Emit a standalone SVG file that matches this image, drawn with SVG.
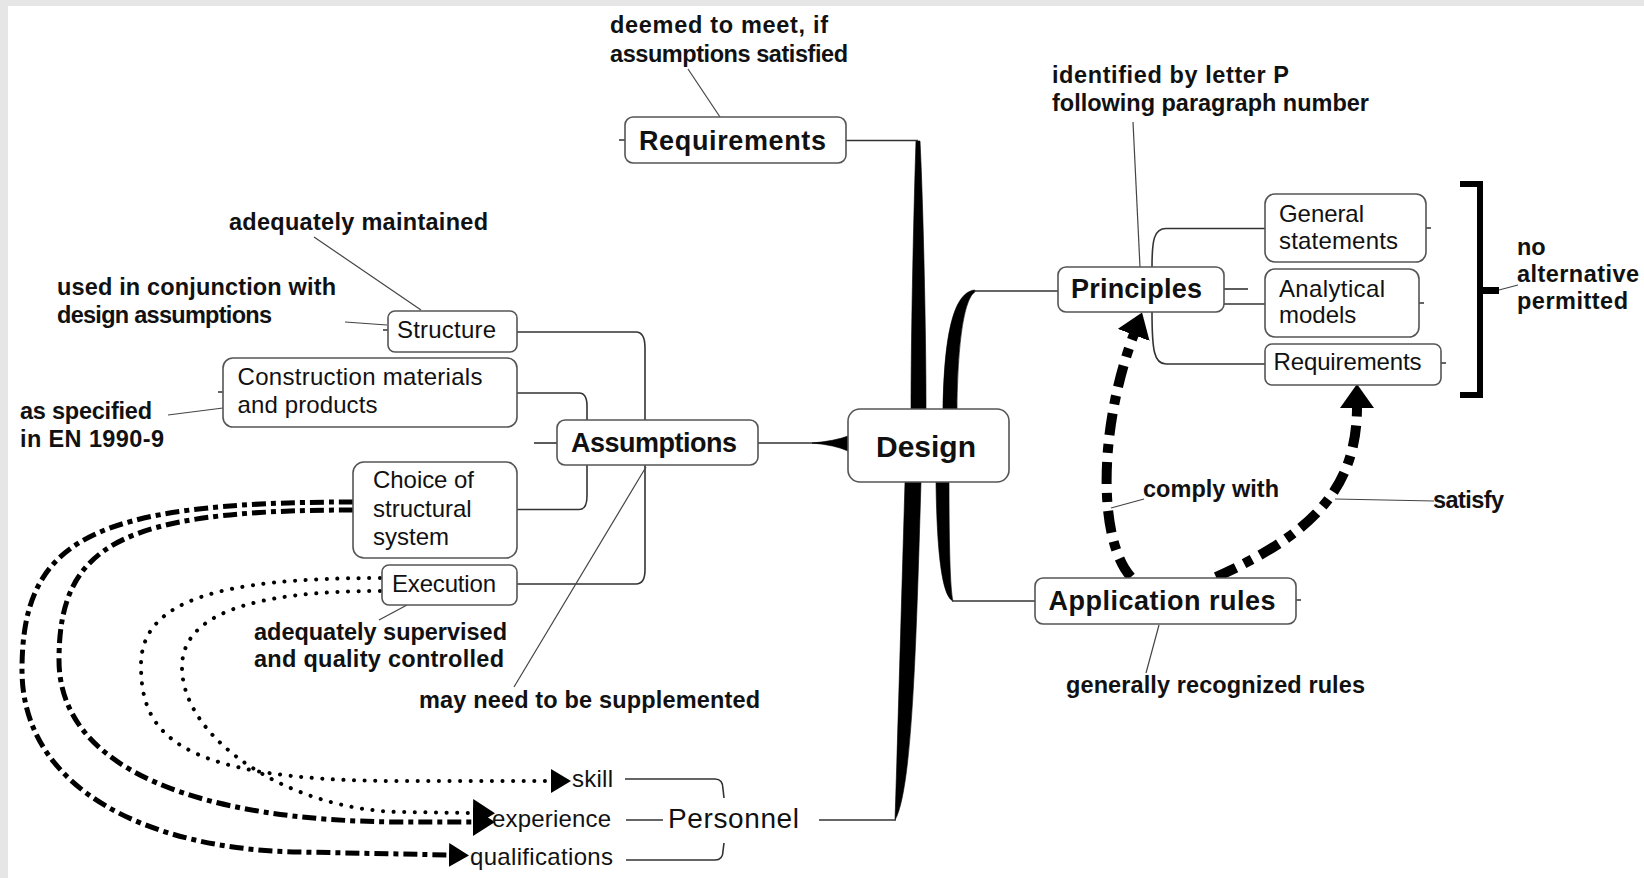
<svg xmlns="http://www.w3.org/2000/svg" width="1644" height="878" viewBox="0 0 1644 878">
  <defs>
    <style>
      text { font-family: "Liberation Sans", Arial, sans-serif; fill: #111; }
      .ann { font-size: 23.5px; font-weight: bold; }
      .topic { font-size: 27px; font-weight: bold; }
      .sub { font-size: 24px; }
      .center { font-size: 30px; font-weight: bold; }
      .pers { font-size: 28px; }
      .box { fill: #fff; stroke: #555; stroke-width: 1.6; }
      .link { fill: none; stroke: #333; stroke-width: 1.6; }
      .lead { fill: none; stroke: #444; stroke-width: 1.2; }
      .spine { fill: #000; stroke: #000; stroke-width: 0.6; }
      .dots { fill: none; stroke: #000; stroke-width: 4; stroke-linecap: round; stroke-dasharray: 0.1 10.5; }
      .dashdot { fill: none; stroke: #000; stroke-width: 5; stroke-dasharray: 14 5 5 5; }
      .heavy { fill: none; stroke: #000; stroke-width: 10; stroke-dasharray: 22 9 9 9; }
    </style>
    <marker id="tri" markerUnits="userSpaceOnUse" markerWidth="20" markerHeight="24" refX="1" refY="12" orient="auto">
      <path d="M0,0 L20,12 L0,24 Z" fill="#000"/>
    </marker>
    <marker id="triBig" markerUnits="userSpaceOnUse" markerWidth="22" markerHeight="28" refX="1" refY="14" orient="auto">
      <path d="M0,0 L22,14 L0,28 Z" fill="#000"/>
    </marker>
    <marker id="triHeavy" markerUnits="userSpaceOnUse" markerWidth="24" markerHeight="34" refX="1" refY="17" orient="auto">
      <path d="M0,0 L24,17 L0,34 Z" fill="#000"/>
    </marker>
  </defs>

  <!-- page frame -->
  <rect x="0" y="0" width="1644" height="878" fill="#e6e6e6"/>
  <rect x="8" y="6" width="1636" height="872" fill="#fff"/>

  <!-- connectors -->
  <g id="connectors">
    <!-- tapered trunk branches around the central topic -->
    <path class="spine" d="M916,141 L920,141 C923,200 926,330 926,409 L911,409 C911,330 914,200 916,141 Z"/>
    <path class="link" d="M846,140.5 L918,140.5"/>
    <path class="spine" d="M943,409 C944,350 950,292 975,290 L975,292 C968,296 958,320 957,409 Z"/>
    <path class="link" d="M974,291 L1058,291"/>
    <path class="spine" d="M905,482 L921,482 C916,650 912,790 895,820 C897,760 901,620 905,482 Z"/>
    <path class="link" d="M819,820 L896,820"/>
    <path class="spine" d="M936,482 L949,482 C949,540 950,590 953,601 C943,597 937,560 936,482 Z"/>
    <path class="link" d="M952,601 L1035,601"/>
    <path class="link" d="M758,443 L820,443"/>
    <path class="spine" d="M812,443 Q835,441 848,436 L848,451 Q835,445 812,443 Z"/>

    <!-- Assumptions sub-branches -->
    <path class="link" d="M534,443 L557,443"/>
    <path class="link" d="M517,332 L636,332 C643,332 645,338 645,348 L645,570 C645,580 642,584 636,584 L517,584"/>
    <path class="link" d="M517,393 L579,393 C585,393 587,398 587,406 L587,496 C587,504 585,509.5 579,509.5 L517,509.5"/>

    <!-- Principles sub-branches -->
    <path class="link" d="M1152,267 C1152,240 1154,228.5 1166,228.5 L1265,228.5"/>
    <path class="link" d="M1152,312 C1152,350 1154,364 1166,364 L1265,364"/>
    <path class="link" d="M1224,304 L1265,304"/>
    <path class="link" d="M1224,289 L1248,289"/>

    <!-- Personnel sub-branches -->
    <path class="link" d="M625,779 L715,779 C721,779 723,783 723,789 L724,798"/>
    <path class="link" d="M626,820 L663,820"/>
    <path class="link" d="M626,860 L715,860 C721,860 723,856 723,851 L724,843"/>

    <!-- small branch stubs -->
    <path class="link" d="M619,140 L625,140 M383,330 L388,330 M218,392 L223,392 M1426,228 L1431,228 M1419,303 L1424,303 M1441,363 L1446,363 M1296,600 L1301,600"/>

    <!-- note leaders -->
    <path class="lead" d="M688,69 L720,117"/>
    <path class="lead" d="M1133,122 L1140,267"/>
    <path class="lead" d="M314,237 L421,310"/>
    <path class="lead" d="M345,322 L387,325"/>
    <path class="lead" d="M168,415 L223,408"/>
    <path class="lead" d="M379,620 L407,605"/>
    <path class="lead" d="M646,467 L514,687"/>
    <path class="lead" d="M1144,499 L1111,508"/>
    <path class="lead" d="M1335,499 L1434,501"/>
    <path class="lead" d="M1159,625 L1146,673"/>
    <path class="lead" d="M1499,290 L1518,285"/>

    <!-- bracket grouping the Principles items -->
    <path d="M1460,184 L1480,184 L1480,395 L1460,395" fill="none" stroke="#000" stroke-width="6"/>
    <rect x="1480" y="287" width="19" height="7" fill="#000"/>

    <!-- Application rules to Principles / Requirements -->
    <path class="heavy" d="M1131,577 C1098,540 1098,430 1134,334" marker-end="url(#triHeavy)"/>
    <path class="heavy" d="M1216,577 C1310,535 1357,490 1357,407" marker-end="url(#triHeavy)"/>

    <!-- Execution and Choice of structural system to Personnel -->
    <path class="dots" d="M380,578 C220,578 141,600 141,665 C141,730 170,781 400,781 L552,781" marker-end="url(#tri)"/>
    <path class="dots" d="M380,591 C250,591 182,615 182,667 C182,740 290,810 400,812 L474,813" marker-end="url(#triBig)"/>
    <path class="dashdot" d="M353,502 C90,502 22,540 22,670 C22,790 150,850 300,852 L450,855" marker-end="url(#tri)"/>
    <path class="dashdot" d="M353,510 C120,510 59,545 59,660 C59,770 200,821 400,822 L474,822" marker-end="url(#triBig)"/>
  </g>

  <!-- nodes -->
  <g id="design">
    <rect class="box" x="848" y="409" width="161" height="73" rx="12"/>
    <text class="center" x="876" y="457" textLength="100">Design</text>
  </g>

  <g id="requirements">
    <rect class="box" x="625" y="117" width="221" height="46" rx="8"/>
    <text class="topic" x="639" y="150" textLength="187">Requirements</text>
  </g>
  <g id="note-deemed">
    <text class="ann" x="610" y="33" textLength="218">deemed to meet, if</text>
    <text class="ann" x="610" y="62" textLength="238">assumptions satisfied</text>
  </g>

  <g id="assumptions">
    <rect class="box" x="557" y="420" width="201" height="45" rx="8"/>
    <text class="topic" x="571" y="452" textLength="166">Assumptions</text>
  </g>
  <g id="note-supplemented">
    <text class="ann" x="419" y="708" textLength="341">may need to be supplemented</text>
  </g>

  <g id="structure">
    <rect class="box" x="388" y="311" width="129" height="41" rx="7"/>
    <text class="sub" x="397" y="338" textLength="99">Structure</text>
  </g>
  <g id="note-maintained">
    <text class="ann" x="229" y="230" textLength="259">adequately maintained</text>
  </g>
  <g id="note-conjunction">
    <text class="ann" x="57" y="295" textLength="279">used in conjunction with</text>
    <text class="ann" x="57" y="323" textLength="215">design assumptions</text>
  </g>

  <g id="materials">
    <rect class="box" x="223" y="358" width="294" height="69" rx="10"/>
    <text class="sub" x="237.5" y="385" textLength="245">Construction materials</text>
    <text class="sub" x="237.5" y="413" textLength="140">and products</text>
  </g>
  <g id="note-specified">
    <text class="ann" x="20" y="419" textLength="132">as specified</text>
    <text class="ann" x="20" y="447" textLength="144">in EN 1990-9</text>
  </g>

  <g id="choice">
    <rect class="box" x="353" y="462" width="164" height="96" rx="11"/>
    <text class="sub" x="373" y="488" textLength="101">Choice of</text>
    <text class="sub" x="373" y="517">structural</text>
    <text class="sub" x="373" y="545">system</text>
  </g>

  <g id="execution">
    <rect class="box" x="382" y="565" width="135" height="40" rx="7"/>
    <text class="sub" x="392" y="592" textLength="104">Execution</text>
  </g>
  <g id="note-supervised">
    <text class="ann" x="254" y="640" textLength="253">adequately supervised</text>
    <text class="ann" x="254" y="667" textLength="250">and quality controlled</text>
  </g>

  <g id="personnel">
    <text class="pers" x="668" y="828" textLength="131">Personnel</text>
  </g>
  <g id="skill">
    <text class="sub" x="572" y="787" textLength="41">skill</text>
  </g>
  <g id="experience">
    <text class="sub" x="492" y="827" textLength="119">experience</text>
  </g>
  <g id="qualifications">
    <text class="sub" x="470" y="865" textLength="143">qualifications</text>
  </g>

  <g id="principles">
    <rect class="box" x="1058" y="267" width="166" height="45" rx="8"/>
    <text class="topic" x="1071" y="298" textLength="131">Principles</text>
  </g>
  <g id="note-letter-p">
    <text class="ann" x="1052" y="83" textLength="237">identified by letter P</text>
    <text class="ann" x="1052" y="111" textLength="317">following paragraph number</text>
  </g>

  <g id="general-statements">
    <rect class="box" x="1265" y="194" width="161" height="68" rx="10"/>
    <text class="sub" x="1279" y="222" textLength="85">General</text>
    <text class="sub" x="1279" y="249" textLength="119">statements</text>
  </g>
  <g id="analytical-models">
    <rect class="box" x="1265" y="269" width="154" height="68" rx="10"/>
    <text class="sub" x="1279" y="297" textLength="106">Analytical</text>
    <text class="sub" x="1279" y="323">models</text>
  </g>
  <g id="principle-requirements">
    <rect class="box" x="1265" y="344" width="176" height="41" rx="7"/>
    <text class="sub" x="1273.5" y="370" textLength="148">Requirements</text>
  </g>
  <g id="note-no-alternative">
    <text class="ann" x="1517" y="255">no</text>
    <text class="ann" x="1517" y="282" textLength="122">alternative</text>
    <text class="ann" x="1517" y="309" textLength="111">permitted</text>
  </g>

  <g id="application-rules">
    <rect class="box" x="1035" y="578" width="261" height="46" rx="8"/>
    <text class="topic" x="1048.5" y="610" textLength="227">Application rules</text>
  </g>
  <g id="note-recognized">
    <text class="ann" x="1066" y="693" textLength="299">generally recognized rules</text>
  </g>
  <g id="note-comply">
    <text class="ann" x="1143" y="497" textLength="136">comply with</text>
  </g>
  <g id="note-satisfy">
    <text class="ann" x="1433" y="508" textLength="71">satisfy</text>
  </g>
</svg>
